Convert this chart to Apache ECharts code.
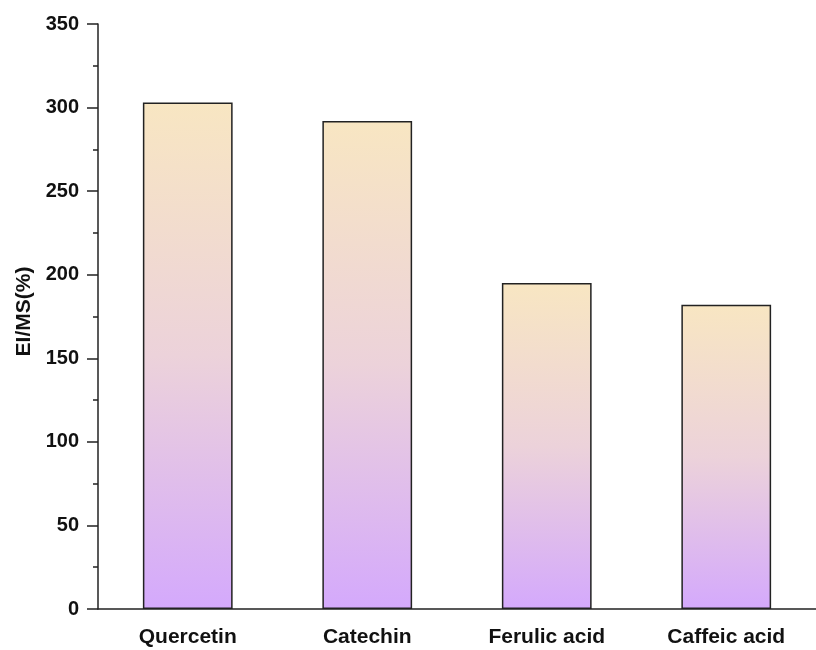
<!DOCTYPE html>
<html>
<head>
<meta charset="utf-8">
<script src="https://cdn.jsdelivr.net/npm/echarts@6/dist/echarts.min.js"></script>
<style>
  html, body { margin: 0; padding: 0; background: #fff; }
  #chart { width: 816px; height: 650px; }
</style>
</head>
<body>
<div id="chart"></div>
<script>
// 数据
const compounds = ['Quercetin', 'Catechin', 'Ferulic acid', 'Caffeic acid'];
const eiValues = [303, 292, 195, 182];
const yTicks = { min: 0, max: 350, interval: 50 };

const chart = echarts.init(document.getElementById('chart'));

const font = 'Liberation Sans, Arial, sans-serif';

const option = {
  animation: false,
  grid: { left: 98, top: 24, bottom: 41, width: 726 },
  xAxis: [
    {
      type: 'category',
      data: compounds,
      axisLine: { lineStyle: { color: '#222', width: 1.5 } },
      axisTick: { alignWithLabel: true, length: 9, lineStyle: { color: '#222', width: 1.5 } },
      axisLabel: { color: '#111', fontFamily: font, fontWeight: 'bold', fontSize: 21, margin: 18 }
    },
    {
      // 类别之间的短刻度
      type: 'category',
      data: compounds,
      position: 'bottom',
      axisLine: { show: false },
      axisTick: { length: 4, lineStyle: { color: '#222', width: 1.5 } },
      axisLabel: { show: false }
    }
  ],
  yAxis: {
    type: 'value',
    min: yTicks.min,
    max: yTicks.max,
    interval: yTicks.interval,
    name: 'EI/MS(%)',
    nameLocation: 'middle',
    nameGap: 60,
    nameTextStyle: { color: '#111', fontFamily: font, fontWeight: 'bold', fontSize: 21, padding: [0, 0, 0, 10] },
    axisLine: { show: true, lineStyle: { color: '#222', width: 1.5 } },
    axisTick: { show: true, length: 11, lineStyle: { color: '#222', width: 1.5 } },
    minorTick: { show: true, splitNumber: 2, length: 5, lineStyle: { color: '#222', width: 1.5 } },
    splitLine: { show: false },
    axisLabel: { color: '#111', fontFamily: font, fontWeight: 'bold', fontSize: 20, margin: 19 }
  },
  series: [
    {
      type: 'bar',
      data: eiValues,
      barWidth: '50%',
      itemStyle: {
        borderColor: '#222',
        borderWidth: 1.5,
        color: new echarts.graphic.LinearGradient(0, 0, 0, 1, [
          { offset: 0, color: '#F8E6C2' },
          { offset: 0.5, color: '#ECD2DA' },
          { offset: 1, color: '#D4A9FC' }
        ])
      }
    }
  ]
};

chart.setOption(option);
</script>
</body>
</html>
